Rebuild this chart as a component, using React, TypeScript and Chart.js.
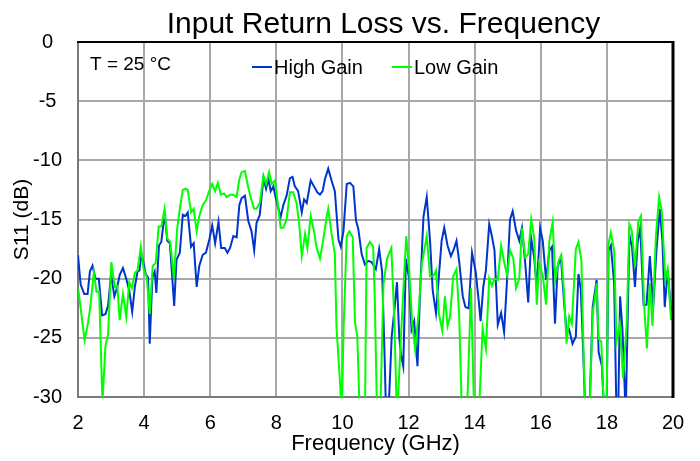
import React, { useEffect, useRef } from "react";
import { Chart, registerables } from "chart.js";

Chart.register(...registerables);

const FONT = "'Liberation Sans', Arial, Helvetica, sans-serif";

const titleText = "Input Return Loss vs. Frequency";
const noteText = "T = 25 °C";
const xAxisTitle = "Frequency (GHz)";
const yAxisTitle = "S11 (dB)";
const seriesNames = ["High Gain", "Low Gain"];
const seriesColors = ["#0035cc", "#00ff00"];
const xTicks = [2, 4, 6, 8, 10, 12, 14, 16, 18, 20];
const yTicks = [0, -5, -10, -15, -20, -25, -30];

// [frequency GHz, S11 dB]
const highGain: [number, number][] = [
  [2.0, -18.0], [2.08, -20.5], [2.19, -21.3], [2.29, -21.3], [2.36, -19.4], [2.44, -18.9], [2.53, -20.0], [2.63, -20.0],
  [2.73, -23.1], [2.83, -23.0], [2.91, -22.3], [3.0, -19.6], [3.1, -21.5], [3.18, -20.8], [3.26, -19.7], [3.36, -19.1],
  [3.46, -20.0], [3.55, -21.0], [3.64, -22.8], [3.72, -20.7], [3.8, -19.4], [3.86, -19.3], [3.92, -17.9], [4.05, -19.6],
  [4.12, -19.9], [4.17, -25.5], [4.25, -19.9], [4.32, -19.4], [4.37, -21.2], [4.45, -17.2], [4.52, -16.9], [4.6, -15.0],
  [4.64, -15.0], [4.7, -16.8], [4.78, -17.0], [4.91, -22.3], [4.98, -18.4], [5.08, -17.8], [5.17, -14.6], [5.25, -14.7],
  [5.32, -14.4], [5.42, -17.3], [5.5, -17.0], [5.59, -20.7], [5.67, -18.9], [5.77, -18.0], [5.87, -17.8], [5.98, -16.6],
  [6.06, -15.5], [6.15, -17.0], [6.25, -15.2], [6.33, -17.4], [6.44, -17.4], [6.52, -17.8], [6.6, -17.4], [6.7, -16.4],
  [6.8, -16.5], [6.88, -13.8], [6.95, -13.2], [7.05, -13.0], [7.15, -15.1], [7.25, -16.0], [7.33, -17.6], [7.4, -15.3],
  [7.5, -14.6], [7.61, -11.5], [7.69, -12.4], [7.76, -11.6], [7.83, -12.6], [7.91, -12.2], [7.96, -12.9], [8.03, -13.7],
  [8.13, -14.8], [8.21, -13.8], [8.31, -13.0], [8.41, -11.5], [8.49, -11.4], [8.56, -12.2], [8.66, -12.6], [8.77, -14.4],
  [8.84, -13.3], [8.92, -13.6], [9.04, -11.7], [9.14, -12.2], [9.24, -12.7], [9.32, -12.9], [9.4, -12.6], [9.47, -11.6],
  [9.57, -10.7], [9.67, -11.7], [9.77, -12.6], [9.88, -16.7], [9.95, -17.3], [10.03, -16.0], [10.13, -12.0], [10.23, -11.9],
  [10.33, -12.2], [10.41, -15.1], [10.48, -15.8], [10.58, -17.9], [10.68, -18.8], [10.78, -18.5], [10.88, -18.6], [11.01, -19.2],
  [11.11, -17.5], [11.2, -19.4], [11.27, -26.0], [11.32, -31.5], [11.39, -31.5], [11.49, -24.9], [11.57, -22.7], [11.65, -20.3],
  [11.72, -25.0], [11.77, -26.4], [11.84, -27.4], [11.92, -18.3], [12.02, -20.1], [12.09, -24.3], [12.17, -23.6], [12.27, -27.4],
  [12.35, -21.0], [12.45, -14.8], [12.55, -13.1], [12.65, -16.8], [12.73, -21.0], [12.83, -22.9], [12.9, -20.4], [13.0, -16.8],
  [13.08, -15.7], [13.18, -17.2], [13.28, -18.1], [13.36, -17.6], [13.45, -16.8], [13.53, -18.5], [13.64, -21.5], [13.72, -22.4],
  [13.82, -22.5], [13.92, -17.8], [14.03, -19.4], [14.12, -21.8], [14.18, -23.6], [14.26, -20.7], [14.34, -19.3], [14.44, -15.4],
  [14.52, -16.4], [14.6, -17.6], [14.7, -23.9], [14.8, -22.9], [14.89, -24.5], [14.98, -20.1], [15.07, -15.0], [15.15, -14.3],
  [15.25, -15.9], [15.35, -16.8], [15.43, -15.7], [15.53, -18.7], [15.62, -22.0], [15.71, -16.6], [15.8, -18.2], [15.88, -20.8],
  [15.98, -15.7], [16.06, -16.8], [16.16, -20.1], [16.26, -17.6], [16.34, -17.3], [16.43, -23.8], [16.51, -19.0], [16.61, -18.2],
  [16.71, -22.2], [16.78, -24.5], [16.86, -24.3], [16.96, -25.5], [17.06, -24.9], [17.14, -19.6], [17.21, -20.9], [17.28, -25.9],
  [17.35, -31.5], [17.47, -31.5], [17.57, -22.4], [17.69, -20.1], [17.75, -26.2], [17.85, -27.4], [17.92, -31.5], [17.99, -31.5],
  [18.05, -17.6], [18.12, -17.2], [18.22, -20.4], [18.29, -31.5], [18.34, -31.5], [18.4, -21.5], [18.47, -24.3], [18.57, -31.5],
  [18.68, -16.3], [18.76, -17.3], [18.85, -20.7], [18.93, -16.9], [19.01, -15.7], [19.11, -22.2], [19.2, -22.2], [19.3, -18.1],
  [19.4, -22.4], [19.5, -17.6], [19.6, -14.1], [19.68, -16.8], [19.75, -22.4], [19.84, -19.3], [19.94, -22.7], [20.0, -22.3],
];

const lowGain: [number, number][] = [
  [2.01, -20.9], [2.2, -25.2], [2.3, -23.8], [2.37, -22.4], [2.48, -19.5], [2.56, -21.1], [2.64, -21.1], [2.74, -30.5],
  [2.83, -25.7], [2.91, -24.7], [3.01, -18.6], [3.11, -20.7], [3.19, -20.6], [3.26, -23.5], [3.36, -21.3], [3.46, -23.2],
  [3.55, -20.3], [3.63, -20.8], [3.72, -19.5], [3.8, -19.3], [3.9, -17.3], [3.98, -19.1], [4.08, -19.9], [4.17, -23.0],
  [4.26, -18.9], [4.35, -18.7], [4.44, -15.6], [4.52, -15.6], [4.62, -14.1], [4.7, -16.6], [4.79, -16.9], [4.9, -20.0],
  [5.0, -15.8], [5.09, -13.9], [5.17, -12.5], [5.25, -12.4], [5.32, -12.5], [5.42, -14.4], [5.5, -14.1], [5.59, -16.0],
  [5.67, -14.7], [5.77, -13.8], [5.87, -13.4], [5.98, -12.5], [6.06, -12.0], [6.15, -12.6], [6.23, -11.9], [6.32, -12.9],
  [6.42, -12.8], [6.5, -13.1], [6.6, -12.9], [6.7, -12.9], [6.8, -13.1], [6.88, -11.6], [6.95, -11.0], [7.05, -10.9],
  [7.15, -12.3], [7.25, -13.4], [7.33, -14.1], [7.4, -14.1], [7.5, -13.6], [7.61, -11.3], [7.69, -12.0], [7.78, -11.0],
  [7.86, -12.0], [7.96, -11.7], [8.03, -13.3], [8.13, -15.7], [8.21, -15.7], [8.31, -15.0], [8.41, -12.7], [8.51, -12.7],
  [8.61, -13.6], [8.69, -15.3], [8.77, -18.1], [8.87, -16.2], [8.94, -17.4], [9.04, -14.7], [9.14, -16.0], [9.22, -17.4],
  [9.32, -18.3], [9.42, -16.7], [9.52, -14.8], [9.57, -14.1], [9.67, -16.2], [9.77, -17.9], [9.82, -24.1], [9.93, -28.9],
  [9.98, -32], [10.03, -24.6], [10.13, -16.4], [10.21, -16.0], [10.31, -16.5], [10.38, -23.7], [10.45, -24.9], [10.53, -32],
  [10.61, -33], [10.68, -32], [10.73, -17.4], [10.83, -16.9], [10.93, -17.3], [10.98, -21.9], [11.05, -32], [11.14, -32],
  [11.24, -20.5], [11.35, -18.3], [11.48, -17.4], [11.57, -23.5], [11.65, -32], [11.76, -25.5], [11.86, -20.0], [11.93, -16.4],
  [12.02, -19.3], [12.11, -23.8], [12.2, -26.0], [12.3, -23.0], [12.4, -18.8], [12.55, -16.4], [12.65, -19.8], [12.75, -19.8],
  [12.83, -19.3], [12.92, -23.0], [13.02, -24.4], [13.1, -21.5], [13.18, -24.0], [13.26, -23.1], [13.35, -19.8], [13.45, -19.2],
  [13.53, -23.0], [13.62, -32], [13.76, -32], [13.89, -20.8], [13.99, -32], [14.12, -32], [14.24, -24.2], [14.34, -25.9],
  [14.44, -20.0], [14.52, -20.6], [14.6, -20.0], [14.7, -20.1], [14.8, -17.2], [14.9, -18.7], [14.98, -19.7], [15.07, -17.6],
  [15.17, -18.3], [15.25, -20.8], [15.35, -20.0], [15.43, -15.7], [15.53, -18.2], [15.62, -17.9], [15.71, -15.0], [15.8, -16.6],
  [15.88, -22.2], [15.95, -18.7], [16.06, -19.7], [16.16, -22.2], [16.26, -16.8], [16.36, -15.2], [16.44, -20.1], [16.54, -18.5],
  [16.62, -18.0], [16.7, -21.0], [16.78, -25.5], [16.86, -23.2], [16.94, -23.8], [17.06, -17.5], [17.14, -16.9], [17.23, -18.5],
  [17.28, -24.6], [17.35, -32], [17.47, -32], [17.57, -22.8], [17.63, -21.8], [17.69, -20.4], [17.75, -25.1], [17.83, -25.3],
  [17.92, -32], [17.99, -32], [18.04, -17.2], [18.12, -16.1], [18.22, -17.6], [18.29, -25.3], [18.39, -23.8], [18.49, -28.4],
  [18.6, -23.8], [18.68, -15.4], [18.75, -15.9], [18.85, -19.0], [18.95, -15.2], [19.03, -14.7], [19.13, -22.4], [19.21, -25.9],
  [19.3, -20.4], [19.38, -24.0], [19.48, -16.5], [19.58, -13.1], [19.66, -14.3], [19.77, -20.1], [19.84, -19.2], [19.94, -23.4],
  [20.0, -23.3],
];

const decorPlugin = {
  id: "decor",
  afterDatasetsDraw(chart: any) {
    const { ctx, chartArea: a } = chart;
    ctx.save();
    // top & right frame (black)
    ctx.strokeStyle = "#000";
    ctx.lineWidth = 2;
    ctx.beginPath();
    ctx.moveTo(a.left - 1, a.top);
    ctx.lineTo(a.right, a.top);
    ctx.stroke();
    ctx.lineWidth = 3;
    ctx.beginPath();
    ctx.moveTo(a.right, a.top - 1);
    ctx.lineTo(a.right, a.bottom + 1);
    ctx.stroke();

    // title
    ctx.fillStyle = "#000";
    ctx.font = `30px ${FONT}`;
    ctx.textAlign = "center";
    ctx.textBaseline = "alphabetic";
    ctx.fillText(titleText, (a.left + a.right) / 2 + 8, a.top - 9);

    // note
    ctx.font = `19px ${FONT}`;
    ctx.textAlign = "left";
    ctx.fillText(noteText, a.left + 12, a.top + 28);

    // legend
    ctx.font = `20px ${FONT}`;
    let x = a.left + 174;
    const y = a.top + 25;
    chart.data.datasets.forEach((ds: any) => {
      ctx.strokeStyle = ds.borderColor;
      ctx.lineWidth = 2;
      ctx.beginPath();
      ctx.moveTo(x, y);
      ctx.lineTo(x + 20, y);
      ctx.stroke();
      ctx.fillStyle = "#000";
      ctx.textBaseline = "middle";
      ctx.fillText(ds.label, x + 22, y + 1);
      x += 22 + ctx.measureText(ds.label).width + 29;
    });
    ctx.restore();
  },
};

export default function App() {
  const ref = useRef<HTMLCanvasElement | null>(null);

  useEffect(() => {
    if (!ref.current) return;
    const chart = new Chart(ref.current, {
      type: "line",
      data: {
        datasets: [
          {
            label: seriesNames[0],
            data: highGain.map(([x, y]) => ({ x, y })),
            borderColor: seriesColors[0],
            backgroundColor: seriesColors[0],
            borderWidth: 2,
            pointRadius: 0,
            tension: 0,
            order: 1,
          },
          {
            label: seriesNames[1],
            data: lowGain.map(([x, y]) => ({ x, y })),
            borderColor: seriesColors[1],
            backgroundColor: seriesColors[1],
            borderWidth: 2,
            pointRadius: 0,
            tension: 0,
            order: 0,
          },
        ],
      },
      options: {
        animation: false,
        responsive: true,
        maintainAspectRatio: false,
        layout: { padding: { top: 42, right: 27, bottom: 0, left: 0 } },
        plugins: {
          legend: { display: false },
          tooltip: { enabled: false },
          title: { display: false },
        },
        scales: {
          x: {
            type: "linear",
            min: xTicks[0],
            max: xTicks[xTicks.length - 1],
            afterBuildTicks: (scale: any) => {
              scale.ticks = xTicks.map((v) => ({ value: v }));
            },
            afterFit: (scale: any) => {
              scale.height = 64;
            },
            grid: { color: "#a8a8a8", lineWidth: 2, drawTicks: false },
            border: { display: true, color: "#7a7a7a", width: 2 },
            ticks: {
              color: "#000",
              font: { family: FONT, size: 20 },
              padding: 14,
              maxRotation: 0,
              autoSkip: false,
            },
            title: {
              display: true,
              text: xAxisTitle,
              color: "#000",
              font: { family: FONT, size: 22 },
              padding: { top: 0, bottom: 4 },
            },
          },
          y: {
            type: "linear",
            min: yTicks[yTicks.length - 1],
            max: yTicks[0],
            afterBuildTicks: (scale: any) => {
              scale.ticks = yTicks.slice().reverse().map((v) => ({ value: v }));
            },
            afterFit: (scale: any) => {
              scale.width = 78;
            },
            grid: { color: "#a8a8a8", lineWidth: 2, drawTicks: false },
            border: { display: true, color: "#7a7a7a", width: 2 },
            ticks: {
              color: "#000",
              font: { family: FONT, size: 20 },
              padding: 16,
              crossAlign: "center",
              autoSkip: false,
            },
            title: {
              display: true,
              text: yAxisTitle,
              color: "#000",
              font: { family: FONT, size: 21 },
              padding: { top: 10, bottom: 0 },
            },
          },
        },
      },
      plugins: [decorPlugin],
    });
    return () => chart.destroy();
  }, []);

  return (
    <div style={{ position: "absolute", left: 0, top: 0, width: 700, height: 461, background: "#fff" }}>
      <canvas ref={ref} />
    </div>
  );
}
